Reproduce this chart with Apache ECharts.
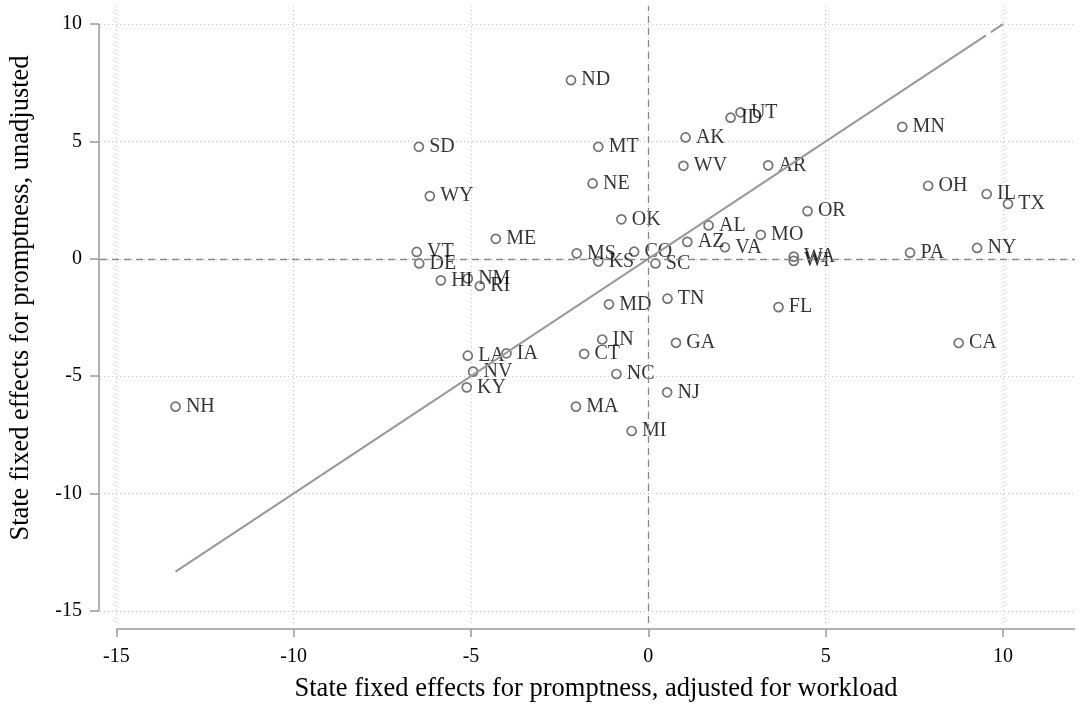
<!DOCTYPE html>
<html><head><meta charset="utf-8">
<script src="https://cdn.jsdelivr.net/npm/echarts@6/dist/echarts.min.js"></script>
<style>html,body{margin:0;padding:0;background:#fff}#c{width:1086px;height:706px}</style>
</head><body><div id="c"></div>
<script>
const states = ['ND','UT','ID','AK','MN','SD','MT','WV','AR','NE','OH','IL','TX','WY','OK','OR','AL','ME','MO','AZ','VA','VT','MS','CO','WA','WI','PA','NY','DE','KS','SC','HI','NM','RI','MD','TN','FL','IN','GA','CA','LA','IA','CT','NV','NC','KY','NJ','NH','MA','MI'];
const adjusted = [-2.18,2.60,2.32,1.05,7.16,-6.47,-1.41,0.99,3.38,-1.57,7.89,9.54,10.14,-6.16,-0.76,4.49,1.70,-4.30,3.17,1.10,2.16,-6.53,-2.02,-0.40,4.10,4.10,7.38,9.27,-6.46,-1.41,0.20,-5.85,-5.09,-4.75,-1.11,0.54,3.67,-1.30,0.78,8.75,-5.09,-4.00,-1.81,-4.94,-0.90,-5.12,0.53,-13.33,-2.04,-0.47];
const unadjusted = [7.61,6.24,6.01,5.17,5.62,4.77,4.77,3.96,3.98,3.21,3.11,2.76,2.34,2.67,1.68,2.03,1.42,0.85,1.02,0.72,0.49,0.29,0.23,0.30,0.09,-0.09,0.26,0.46,-0.20,-0.11,-0.20,-0.92,-0.84,-1.16,-1.94,-1.70,-2.06,-3.44,-3.58,-3.59,-4.13,-4.03,-4.05,-4.81,-4.91,-5.48,-5.69,-6.30,-6.30,-7.34];
const fitX = [-13.33, 9.52, '-', 9.66, 10.0];
const fitY = [-13.33, 9.52, '-', 9.66, 10.0];
const xTicks = [-15,-10,-5,0,5,10];
const yTicks = [-15,-10,-5,0,5,10];
const xTitle = 'State fixed effects for promptness, adjusted for workload';
const yTitle = 'State fixed effects for promptness, unadjusted';

const FONT = 'Liberation Serif';
const xMin = -15.46, xMax = 12.03, yMin = -15.52, yMax = 10.77;
const xOffset = 6, yOffset = 1;

const chart = echarts.init(document.getElementById('c'), null, {renderer:'canvas'});
const option = {
  animation: false,
  backgroundColor: '#fff',
  grid: {left: 100, right: 11, top: 6, bottom: 83, containLabel: false},
  xAxis: {
    type: 'value', min: xMin, max: xMax, position: 'bottom', offset: xOffset,
    axisLine: {show: false, onZero: false},
    axisTick: {show: true, length: 8, customValues: xTicks, lineStyle: {color: '#999', width: 1.5}},
    axisLabel: {customValues: xTicks, margin: 18, fontFamily: FONT, fontSize: 20, color: '#000'},
    splitLine: {show: true, lineStyle: {type: [1, 3], color: '#c8c8c8', width: 1}}
  },
  yAxis: {
    type: 'value', min: yMin, max: yMax, position: 'left', offset: yOffset,
    axisLine: {show: false, onZero: false},
    axisTick: {show: true, length: 9, customValues: yTicks, lineStyle: {color: '#999', width: 1.5}},
    axisLabel: {customValues: yTicks, margin: 17, fontFamily: FONT, fontSize: 20, color: '#000'},
    splitLine: {show: true, lineStyle: {type: [1, 3], color: '#c8c8c8', width: 1}}
  },
  series: [
    {
      type: 'scatter',
      symbol: 'circle', symbolSize: 9,
      itemStyle: {color: 'rgba(255,255,255,0)', borderColor: '#505050', borderWidth: 1.7},
      label: {show: true, position: 'right', distance: 5, formatter: p => p.name,
              fontFamily: FONT, fontSize: 20, color: '#000'},
      data: states.map((s, i) => ({name: s, value: [adjusted[i], unadjusted[i]]})),
      markLine: {
        silent: true, symbol: 'none', label: {show: false},
        lineStyle: {color: '#888', type: [7, 5], width: 1.3},
        data: [{xAxis: 0}, {yAxis: 0}]
      },
      z: 3
    },
    {
      type: 'line', showSymbol: false, symbol: 'none', connectNulls: false,
      lineStyle: {color: '#999', width: 2},
      data: fitX.map((x, i) => [x, fitY[i]]),
      z: 4
    }
  ]
};
chart.setOption(option);

const gx = v => chart.convertToPixel({xAxisIndex: 0}, v);
const gy = v => chart.convertToPixel({yAxisIndex: 0}, v);
const xAxisY = gy(yMin) + xOffset;
const yAxisX = gx(xMin) - yOffset;
chart.setOption({
  graphic: [
    {type: 'line', shape: {x1: gx(-15), y1: xAxisY, x2: gx(xMax), y2: xAxisY}, style: {stroke: '#999', lineWidth: 1.5}, z: 10},
    {type: 'line', shape: {x1: yAxisX, y1: gy(10), x2: yAxisX, y2: gy(-15)}, style: {stroke: '#999', lineWidth: 1.5}, z: 10},
    {type: 'text', x: 596, y: 689, style: {text: xTitle, fontFamily: FONT, fontSize: 26.5, fill: '#000', align: 'center', verticalAlign: 'middle'}},
    {type: 'text', x: 21, y: 298, rotation: Math.PI / 2, style: {text: yTitle, fontFamily: FONT, fontSize: 26.5, fill: '#000', align: 'center', verticalAlign: 'middle'}}
  ]
});
</script>
</body></html>
